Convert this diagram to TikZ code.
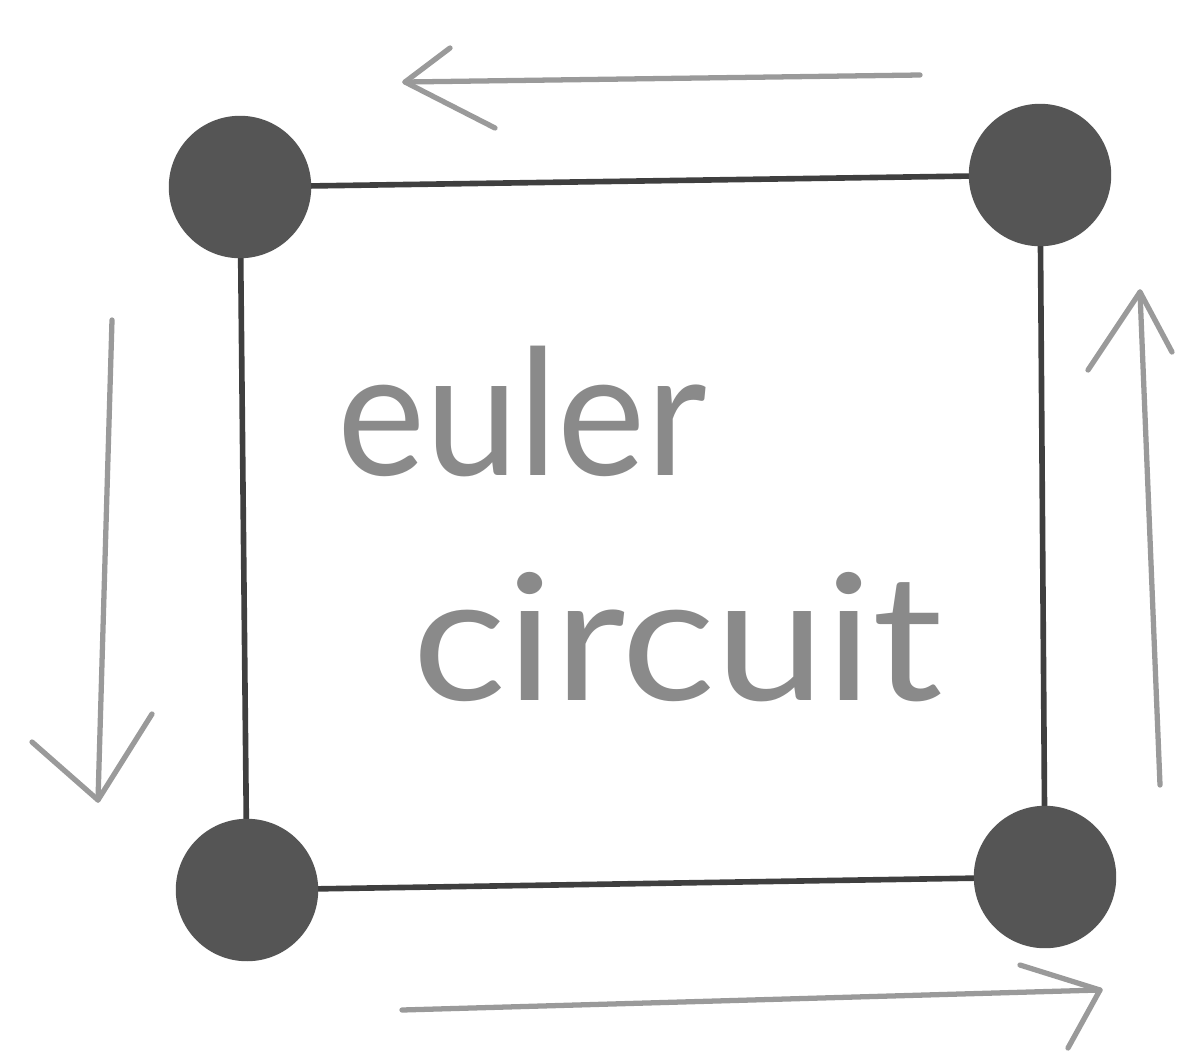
\documentclass[tikz,border=0pt]{standalone}
\usepackage{fontspec}
\setmainfont{Lato}
\definecolor{vertexgray}{HTML}{555555}
\definecolor{edgegray}{HTML}{3F3F3F}
\definecolor{pencilgray}{HTML}{9A9A9A}
\definecolor{textgray}{HTML}{8A8A8A}
\begin{document}
\begin{tikzpicture}[x=0.02cm,y=-0.02cm,
  vert/.style={circle,fill=vertexgray,minimum size=2.85cm,inner sep=0pt},
  edge/.style={line width=3.2pt,draw=edgegray},
  pencil/.style={line width=3pt,draw=pencilgray,line cap=round,line join=round},
  lbl/.style={text=textgray,font=\fontsize{100}{110}\selectfont,anchor=base,inner sep=0pt}]
\useasboundingbox (0,0) rectangle (1181,1056);
\fill[white] (0,0) rectangle (1181,1056);
% edges first
\coordinate (tl) at (240,187);
\coordinate (tr) at (1040,175);
\coordinate (bl) at (247,890);
\coordinate (br) at (1045,877);
\draw[edge] (tl) -- (tr);
\draw[edge] (tr) -- (br);
\draw[edge] (br) -- (bl);
\draw[edge] (bl) -- (tl);
% vertices
\node[vert] (a) at (tl) {};
\node[vert] (b) at (tr) {};
\node[vert] (c) at (bl) {};
\node[vert] (d) at (br) {};
% text
\node[lbl] (t1) at (522,475) {\scalebox{0.95}[1]{euler}};
\node[lbl] (t2) at (678,700) {\scalebox{1.12}[1]{circuit}};
% arrows (pencil strokes)
\coordinate (topS) at (920,75);
\coordinate (topE) at (405,82);
\coordinate (topH1) at (450,48);
\coordinate (topH2) at (495,128);
\draw[pencil] (topS) -- (topE);
\draw[pencil] (topH1) -- (topE) -- (topH2);
\coordinate (leftS) at (112,320);
\coordinate (leftE) at (98,800);
\coordinate (leftH1) at (32,742);
\coordinate (leftH2) at (152,714);
\draw[pencil] (leftS) -- (leftE);
\draw[pencil] (leftH1) -- (leftE) -- (leftH2);
\coordinate (botS) at (402,1010);
\coordinate (botE) at (1100,990);
\coordinate (botH1) at (1020,965);
\coordinate (botH2) at (1068,1048);
\draw[pencil] (botS) -- (botE);
\draw[pencil] (botH1) -- (botE) -- (botH2);
\coordinate (rightS) at (1160,785);
\coordinate (rightE) at (1140,292);
\coordinate (rightH1) at (1088,370);
\coordinate (rightH2) at (1172,352);
\draw[pencil] (rightS) -- (rightE);
\draw[pencil] (rightH1) -- (rightE) -- (rightH2);
\end{tikzpicture}
\end{document}
